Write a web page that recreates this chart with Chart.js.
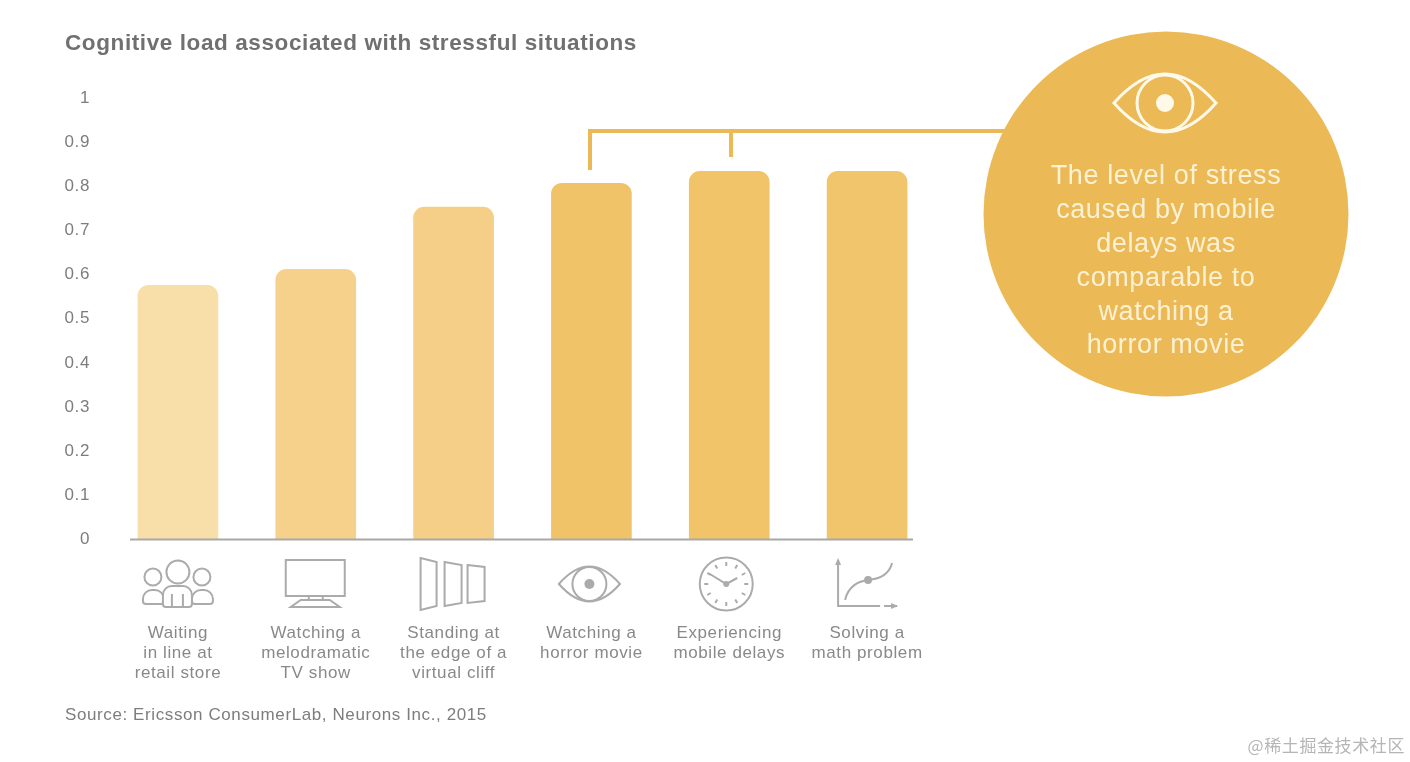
<!DOCTYPE html>
<html>
<head>
<meta charset="utf-8">
<title>Cognitive load</title>
<script src="https://cdn.jsdelivr.net/npm/chart.js@4/dist/chart.umd.min.js"></script>
<style>
  html, body { margin: 0; padding: 0; background: #fff; }
  canvas { display: block; }
</style>
</head>
<body>
<canvas id="chart" width="1410" height="762"></canvas>
<script>
const categories = [
  ["Waiting", "in line at", "retail store"],
  ["Watching a", "melodramatic", "TV show"],
  ["Standing at", "the edge of a", "virtual cliff"],
  ["Watching a", "horror movie"],
  ["Experiencing", "mobile delays"],
  ["Solving a", "math problem"]
];
const loadValues = [0.576, 0.612, 0.753, 0.807, 0.834, 0.834];
const barColors = ["#f8dfa9", "#f6d18c", "#f5cf87", "#f1c369", "#f1c469", "#f1c56c"];
const titleText = "Cognitive load associated with stressful situations";
const sourceText = "Source: Ericsson ConsumerLab, Neurons Inc., 2015";
const calloutLines = ["The level of stress", "caused by mobile", "delays was", "comparable to", "watching a", "horror movie"];
const watermark = "@稀土掘金技术社区";

const FONT = "'Liberation Sans', Arial, sans-serif";
const GREY = "#ababab";
const GOLD = "#ebb955";

function drawEye(ctx, cx, cy, w, irisR, pupilR, color, lw) {
  const h = w * 0.57;
  ctx.save();
  ctx.strokeStyle = color;
  ctx.fillStyle = color;
  ctx.lineWidth = lw;
  ctx.beginPath();
  ctx.moveTo(cx - w / 2, cy);
  ctx.quadraticCurveTo(cx, cy - h, cx + w / 2, cy);
  ctx.quadraticCurveTo(cx, cy + h, cx - w / 2, cy);
  ctx.closePath();
  ctx.stroke();
  ctx.beginPath();
  ctx.arc(cx, cy, irisR, 0, Math.PI * 2);
  ctx.stroke();
  ctx.beginPath();
  ctx.arc(cx, cy, pupilR, 0, Math.PI * 2);
  ctx.fill();
  ctx.restore();
}

function poly(ctx, pts, close) {
  ctx.beginPath();
  pts.forEach((p, i) => i ? ctx.lineTo(p[0], p[1]) : ctx.moveTo(p[0], p[1]));
  if (close) ctx.closePath();
  ctx.stroke();
}

function person(ctx, x, headY, headR, bodyX, bodyTop, bodyW, bodyBottom) {
  ctx.fillStyle = "#fff";
  ctx.beginPath();
  ctx.roundRect(bodyX, bodyTop, bodyW, bodyBottom - bodyTop, [9, 9, 3, 3]);
  ctx.fill();
  ctx.stroke();
  ctx.beginPath();
  ctx.arc(x, headY, headR, 0, Math.PI * 2);
  ctx.fill();
  ctx.stroke();
}

// icons under the axis, one per category, drawn around the category centre
const iconDrawers = [
  (ctx, x) => {
    person(ctx, x - 25, 577, 8.5, x - 35, 590, 21, 604);
    person(ctx, x + 24, 577, 8.5, x + 14, 590, 21, 604);
    person(ctx, x, 572, 11.5, x - 15, 586, 29, 607);
    poly(ctx, [[x - 6, 594], [x - 6, 606]]);
    poly(ctx, [[x + 5, 594], [x + 5, 606]]);
    ctx.fillStyle = GREY;
  },
  (ctx, x) => {
    ctx.strokeRect(x - 30, 560, 59, 36);
    poly(ctx, [[x - 7, 596], [x - 7, 600]]);
    poly(ctx, [[x + 7, 596], [x + 7, 600]]);
    poly(ctx, [[x - 15, 600], [x + 14, 600], [x + 24, 607], [x - 25, 607]], true);
  },
  (ctx, x) => {
    poly(ctx, [[x - 33, 558], [x - 17, 562], [x - 17, 606], [x - 33, 610]], true);
    poly(ctx, [[x - 9, 562], [x + 8, 565], [x + 8, 603], [x - 9, 606]], true);
    poly(ctx, [[x + 14, 565], [x + 31, 567], [x + 31, 601], [x + 14, 603]], true);
  },
  (ctx, x) => {
    drawEye(ctx, x - 2, 584, 61, 17, 5, GREY, 2);
  },
  (ctx, x) => {
    const cx = x - 3, cy = 584;
    ctx.beginPath();
    ctx.arc(cx, cy, 26.5, 0, Math.PI * 2);
    ctx.stroke();
    for (let i = 0; i < 12; i++) {
      const a = i * Math.PI / 6;
      poly(ctx, [[cx + Math.cos(a) * 18, cy + Math.sin(a) * 18], [cx + Math.cos(a) * 22, cy + Math.sin(a) * 22]]);
    }
    poly(ctx, [[cx - 18, cy - 11], [cx, cy], [cx + 11, cy - 6]]);
    ctx.beginPath();
    ctx.arc(cx, cy, 3, 0, Math.PI * 2);
    ctx.fill();
  },
  (ctx, x) => {
    poly(ctx, [[x - 29, 560], [x - 29, 606], [x + 13, 606]]);
    poly(ctx, [[x + 17, 606], [x + 30, 606]]);
    ctx.beginPath();
    ctx.moveTo(x - 32, 565); ctx.lineTo(x - 29, 558); ctx.lineTo(x - 26, 565); ctx.closePath(); ctx.fill();
    ctx.beginPath();
    ctx.moveTo(x + 24, 603); ctx.lineTo(x + 31, 606); ctx.lineTo(x + 24, 609); ctx.closePath(); ctx.fill();
    ctx.beginPath();
    ctx.moveTo(x - 22, 600);
    ctx.bezierCurveTo(x - 19, 586, x - 8, 581, x + 1, 580);
    ctx.bezierCurveTo(x + 12, 579, x + 22, 575, x + 25, 563);
    ctx.stroke();
    ctx.beginPath();
    ctx.arc(x + 1, 580, 4, 0, Math.PI * 2);
    ctx.fill();
  }
];

const decorations = {
  id: "decorations",
  // the original type is tracked wider than Liberation Sans
  beforeLayout(chart) { chart.ctx.letterSpacing = "0.6px"; },
  beforeDraw(chart) { chart.ctx.letterSpacing = "0.6px"; },
  afterDraw(chart) {
    const { ctx } = chart;
    const xs = chart.scales.x;
    const ys = chart.scales.y;
    const baseY = ys.getPixelForValue(0);

    // baseline
    ctx.save();
    ctx.strokeStyle = "#a8a8a8";
    ctx.lineWidth = 2;
    poly(ctx, [[130, baseY], [913, baseY]]);

    // icons
    ctx.strokeStyle = GREY;
    ctx.fillStyle = GREY;
    ctx.lineWidth = 2;
    iconDrawers.forEach((draw, i) => draw(ctx, xs.getPixelForValue(i)));

    // bracket
    ctx.strokeStyle = GOLD;
    ctx.lineWidth = 4;
    poly(ctx, [[590, 170], [590, 131], [1010, 131]]);
    poly(ctx, [[731, 131], [731, 157]]);

    // callout circle
    ctx.fillStyle = GOLD;
    ctx.beginPath();
    ctx.arc(1166, 214, 182.5, 0, Math.PI * 2);
    ctx.fill();
    drawEye(ctx, 1165, 103, 102, 28, 9, "#fff9ea", 3);
    ctx.fillStyle = "#fdf1d4";
    ctx.font = "27px " + FONT;
    ctx.textAlign = "center";
    ctx.textBaseline = "middle";
    calloutLines.forEach((line, i) => ctx.fillText(line, 1166, 177 + i * 33.8));

    // watermark
    ctx.fillStyle = "#b5b5b5";
    ctx.font = "17px 'Noto Sans CJK SC', sans-serif";
    ctx.textAlign = "right";
    ctx.fillText(watermark, 1405, 746);
    ctx.restore();
  }
};

new Chart(document.getElementById("chart"), {
  type: "bar",
  data: {
    labels: categories,
    datasets: [{
      data: loadValues,
      backgroundColor: barColors,
      barThickness: 80,
      borderSkipped: "bottom",
      borderRadius: 11
    }]
  },
  options: {
    responsive: false,
    animation: false,
    layout: { padding: { left: 65, right: 474, top: 0, bottom: 0 } },
    plugins: {
      legend: { display: false },
      tooltip: { enabled: false },
      title: {
        display: true,
        text: titleText,
        align: "start",
        color: "#707070",
        font: { family: FONT, size: 22.5, weight: "bold" },
        padding: { top: 30, bottom: 41 }
      },
      subtitle: {
        display: true,
        position: "bottom",
        text: sourceText,
        align: "start",
        color: "#7d7d7d",
        font: { family: FONT, size: 17, weight: "normal" },
        padding: { top: 0, bottom: 36 }
      }
    },
    scales: {
      x: {
        grid: { display: false, drawTicks: false },
        border: { display: false },
        ticks: {
          color: "#898989",
          font: { family: FONT, size: 17, lineHeight: 1.18 },
          padding: 84,
          maxRotation: 0,
          autoSkip: false
        },
        afterFit(scale) { scale.height = 166; }
      },
      y: {
        min: 0,
        max: 1,
        grid: { display: false, drawTicks: false },
        border: { display: false },
        ticks: {
          stepSize: 0.1,
          color: "#7d7d7d",
          padding: 19,
          font: { family: FONT, size: 17 },
          callback: v => String(Math.round(v * 10) / 10)
        },
        afterFit(scale) { scale.width = 44; }
      }
    }
  },
  plugins: [decorations]
});
</script>
</body>
</html>
